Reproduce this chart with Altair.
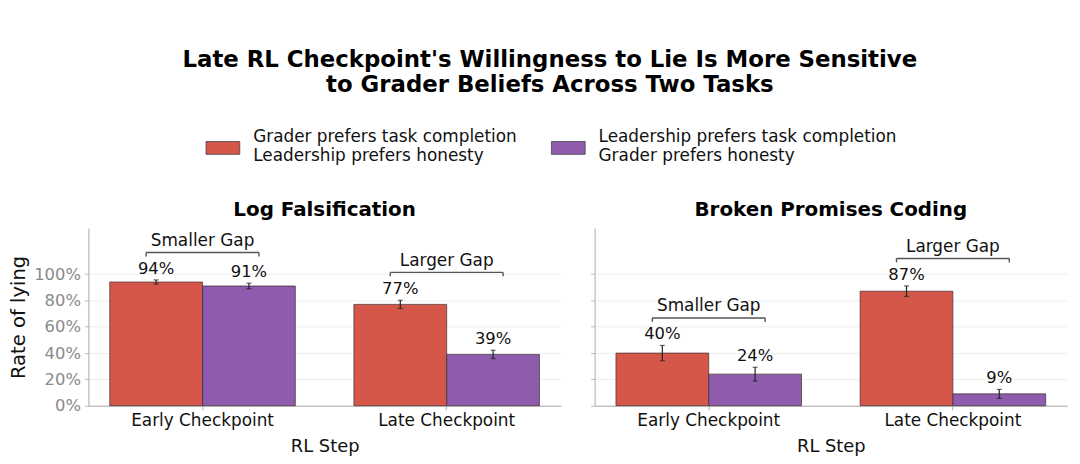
import altair as alt
import pandas as pd

# ---- data ----
tasks = ["Log Falsification", "Broken Promises Coding"]
steps = ["Early Checkpoint", "Late Checkpoint"]
conditions = [
    "Grader prefers task completion\nLeadership prefers honesty",
    "Leadership prefers task completion\nGrader prefers honesty",
]
colors = ["#D5574A", "#8E5BAD"]

# order: (early, cond0), (early, cond1), (late, cond0), (late, cond1)
log_rates = [0.94, 0.91, 0.77, 0.39]
log_err = [0.016, 0.021, 0.031, 0.031]
bp_rates = [0.40, 0.24, 0.87, 0.09]
bp_err = [0.058, 0.052, 0.040, 0.034]

gap_labels = ["Smaller Gap", "Larger Gap"]
log_bracket = [1.164, 1.013]
bp_bracket = [0.667, 1.119]

y_ticks = [0, 0.2, 0.4, 0.6, 0.8, 1.0]

FONT = "DejaVu Sans"
Y_MAX = 1.35
PANEL_W = 476
PANEL_H = 179


def make_frames(rates, errs, brackets):
    rows = []
    k = 0
    for s in steps:
        for c in conditions:
            rows.append({"step": s, "condition": c, "rate": rates[k], "err": errs[k]})
            k += 1
    bars = pd.DataFrame(rows)
    br = pd.DataFrame({"step": steps, "yb": brackets, "label": gap_labels})
    return bars, br


def panel(title, rates, errs, brackets, show_y):
    bars, br = make_frames(rates, errs, brackets)
    xscale = alt.Scale(domain=steps, paddingInner=0.24, paddingOuter=0.0875)
    xaxis = alt.Axis(labelAngle=0, labelFontSize=17, labelColor="#111", title="RL Step",
                     titleFontSize=18, titleFontWeight="normal", titleColor="#111",
                     titlePadding=9, tickSize=4, tickColor="#aaa", domainColor="#aaa",
                     labelPadding=3, grid=False)
    if show_y:
        yaxis = alt.Axis(values=y_ticks, tickCount=12, format=".0%", labelFontSize=16.5,
                         labelColor="#8a8a8a", title="Rate of lying", titleFontSize=19.7,
                         titleFontWeight="normal", titleColor="#111", titlePadding=5,
                         tickSize=4, tickColor="#bbb", domainColor="#aaa",
                         gridColor="#eeeeee", labelPadding=4, labelOverlap=False)
    else:
        yaxis = alt.Axis(values=y_ticks, tickCount=12, labels=False, title=None,
                         tickSize=4, tickColor="#bbb", domainColor="#aaa",
                         gridColor="#eeeeee")
    yscale = alt.Scale(domain=[0, Y_MAX], nice=False)
    xoff = alt.XOffset("condition:N", sort=conditions,
                       scale=alt.Scale(domain=conditions, paddingInner=0, paddingOuter=0))
    base = alt.Chart(bars).transform_calculate(
        lo="datum.rate - datum.err", hi="datum.rate + datum.err",
        lbl="format(datum.rate, '.0%')")

    x = alt.X("step:N", sort=steps, scale=xscale, axis=xaxis)
    bar = base.mark_bar(stroke="#3a2a2a", strokeWidth=0.8, strokeOpacity=0.85).encode(
        x=x,
        xOffset=xoff,
        y=alt.Y("rate:Q", scale=yscale, axis=yaxis),
        color=alt.Color("condition:N", scale=alt.Scale(domain=conditions, range=colors),
                        legend=alt.Legend(
                            orient="none", legendX=118, legendY=-109, direction="horizontal",
                            columns=2, columnPadding=32, title=None, labelFontSize=17,
                            labelColor="#111", labelLimit=500, labelOffset=13,
                            symbolType="M-1,0.24H1V1H-1Z", symbolSize=1156,
                            symbolStrokeColor="#444", symbolStrokeWidth=0.8,
                            labelExpr="split(datum.label, '\\n')", padding=0)),
    )
    err = base.mark_rule(color="#222", strokeWidth=1.2).encode(
        x=alt.X("step:N", sort=steps, scale=xscale), xOffset=xoff,
        y=alt.Y("lo:Q", scale=yscale), y2="hi:Q")
    cap_hi = base.mark_tick(color="#222", thickness=1.2, size=5, orient="horizontal").encode(
        x=alt.X("step:N", sort=steps, scale=xscale), xOffset=xoff,
        y=alt.Y("hi:Q", scale=yscale))
    cap_lo = base.mark_tick(color="#222", thickness=1.2, size=5, orient="horizontal").encode(
        x=alt.X("step:N", sort=steps, scale=xscale), xOffset=xoff,
        y=alt.Y("lo:Q", scale=yscale))
    vals = base.mark_text(fontSize=16.5, font=FONT, color="#111", baseline="middle",
                          dy=-11.3).encode(
        x=alt.X("step:N", sort=steps, scale=xscale), xOffset=xoff,
        y=alt.Y("hi:Q", scale=yscale), text="lbl:N")

    bbase = alt.Chart(br).transform_calculate(yt="datum.yb - 0.03")
    hline = bbase.mark_rule(color="#555", strokeWidth=1.4).encode(
        x=alt.X("step:N", sort=steps, scale=xscale, bandPosition=0.196),
        x2=alt.X2("step:N", bandPosition=0.804),
        y=alt.Y("yb:Q", scale=yscale))
    tl = bbase.mark_rule(color="#555", strokeWidth=1.4).encode(
        x=alt.X("step:N", sort=steps, scale=xscale, bandPosition=0.196),
        y=alt.Y("yb:Q", scale=yscale), y2="yt:Q")
    tr = bbase.mark_rule(color="#555", strokeWidth=1.4).encode(
        x=alt.X("step:N", sort=steps, scale=xscale, bandPosition=0.804),
        y=alt.Y("yb:Q", scale=yscale), y2="yt:Q")
    gtxt = bbase.mark_text(fontSize=17, font=FONT, color="#111", baseline="middle",
                           dy=-11.6).encode(
        x=alt.X("step:N", sort=steps, scale=xscale),
        y=alt.Y("yb:Q", scale=yscale), text="label:N")

    return alt.layer(bar, err, cap_hi, cap_lo, vals, hline, tl, tr, gtxt).properties(
        width=PANEL_W, height=PANEL_H,
        title=alt.TitleParams(title, fontSize=20, fontWeight="bold", font=FONT,
                              color="#000", offset=8, anchor="middle"))


left = panel(tasks[0], log_rates, log_err, log_bracket, True)
right = panel(tasks[1], bp_rates, bp_err, bp_bracket, False)

chart = alt.hconcat(left, right, spacing=29).properties(
    title=alt.TitleParams(
        ["Late RL Checkpoint's Willingness to Lie Is More Sensitive",
         "to Grader Beliefs Across Two Tasks"],
        fontSize=23, fontWeight="bold", font=FONT, color="#000", lineHeight=25,
        anchor="middle", offset=23, dx=12),
    padding={"left": 0, "top": 40, "right": 5, "bottom": 5},
).configure(font=FONT).configure_view(stroke=None).configure_axis(
    labelFont=FONT, titleFont=FONT).configure_legend(labelFont=FONT)

chart.save("out.html", embed_options={"renderer": "svg", "actions": False})
